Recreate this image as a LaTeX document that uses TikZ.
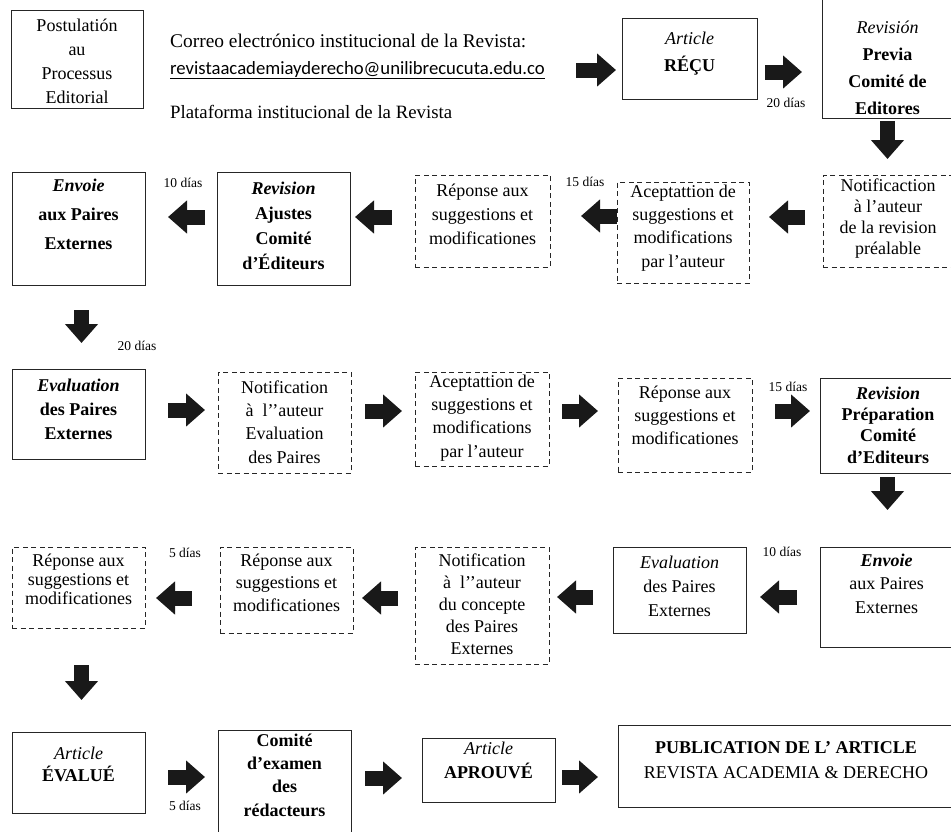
\documentclass[tikz,border=0pt]{standalone}
\usepackage{fontspec}
\setmainfont{Liberation Serif}
\newfontfamily\mailfont{Carlito}
\usetikzlibrary{arrows.meta}

\begin{document}
\begin{tikzpicture}[x=1pt, y=-1pt,
    etape/.style args={#1/#2}{draw=black!85, line width=0.9pt, inner sep=0pt, outer sep=0pt,
      minimum width=#1pt, minimum height=#2pt},
    etapetiret/.style args={#1/#2}{etape=#1/#2, dash pattern=on 5pt off 3.5pt},
    texte/.style={align=center, inner sep=0pt, font=\fontsize{18}{#1}\selectfont},
    ligne/.style={anchor=base west, inner sep=0pt, font=\fontsize{#1}{22}\selectfont},
    jours/.style={inner sep=0pt, font=\fontsize{13.5}{16}\selectfont},
    fleche/.style={draw=black!90, line width=15pt, -{Triangle[width=32pt, length=19pt]}}]
  \useasboundingbox (0,0) rectangle (951,831);

  % ligne 1
  \node[etape=132/98] (post) at (77,59) {};
  \node[texte=24] (tpost) at (77,61) {Postulatión\\au\\Processus\\Editorial};
  \node[ligne=19.4] (m1) at (170,47) {Correo electrónico institucional de la Revista:};
  \node[ligne=18.7, font=\mailfont\fontsize{18.7}{22}\selectfont] (m2) at (170,74)
    {\underline{revistaacademiayderecho@unilibrecucuta.edu.co}};
  \node[ligne=18.8] (m3) at (170,118) {Plataforma institucional de la Revista};
  \node[etape=135/81] (recu) at (689.5,58.5) {};
  \node[texte=27] (trecu) at (689.5,53.5) {\textit{Article}\\\textbf{RÉÇU}};
  \node[etape=131/120] (prev) at (887.5,58) {};
  \node[texte=27] (tprev) at (887.5,68)
    {\textit{Revisión}\\\textbf{Previa}\\\textbf{Comité de}\\\textbf{Editores}};
  \node[jours] (j1) at (786,103) {20 días};

  % ligne 2
  \node[etapetiret=130/92] (notp) at (888,221) {};
  \node[texte=21] (tnotp) at (888,218.5) {Notificaction\\à l’auteur\\de la revision\\préalable};
  \node[etapetiret=132/101] (acep1) at (683,232.5) {};
  \node[texte=23.3] (tacep1) at (683,228) {Aceptattion de\\suggestions et\\modifications\\par l’auteur};
  \node[etapetiret=135/92] (rep1) at (482.5,221) {};
  \node[texte=24] (trep1) at (482.5,214) {Réponse aux\\suggestions et\\modificationes};
  \node[etape=133/113] (aju) at (283.5,228.5) {};
  \node[texte=25] (taju) at (283.5,225.5)
    {\textbf{\textit{Revision}}\\\textbf{Ajustes}\\\textbf{Comité}\\\textbf{d’Éditeurs}};
  \node[etape=133/113] (env1) at (78.5,228.5) {};
  \node[texte=29] (tenv1) at (78.5,214) {\textbf{\textit{Envoie}}\\\textbf{aux Paires}\\\textbf{Externes}};
  \node[jours] (j2) at (585,182) {15 días};
  \node[jours] (j3) at (183,183) {10 días};
  \node[jours] (j4) at (137,346) {20 días};

  % ligne 3
  \node[etape=133/90] (eval1) at (78.5,414) {};
  \node[texte=24] (teval1) at (78.5,409)
    {\textbf{\textit{Evaluation}}\\\textbf{des Paires}\\\textbf{Externes}};
  \node[etapetiret=133/101] (not2) at (284.5,422.5) {};
  \node[texte=23.3] (tnot2) at (284.5,422) {Notification\\à\ \ l’’auteur\\Evaluation\\des Paires};
  \node[etapetiret=134/94] (acep2) at (482,419) {};
  \node[texte=23.3] (tacep2) at (482,418) {Aceptattion de\\suggestions et\\modifications\\par l’auteur};
  \node[etapetiret=134/94] (rep2) at (685,425) {};
  \node[texte=23] (trep2) at (685,415) {Réponse aux\\suggestions et\\modificationes};
  \node[etape=133/95] (prep) at (886.5,425.5) {};
  \node[texte=21.3] (tprep) at (888,425)
    {\textbf{\textit{Revision}}\\\textbf{Préparation}\\\textbf{Comité}\\\textbf{d’Editeurs}};
  \node[jours] (j5) at (788,387) {15 días};

  % ligne 4
  \node[etape=133/100] (env2) at (886.5,597) {};
  \node[texte=23.5] (tenv2) at (886.5,583.5) {\textbf{\textit{Envoie}}\\aux Paires\\Externes};
  \node[etape=133/86] (eval2) at (679.5,590) {};
  \node[texte=24] (teval2) at (679.5,586) {\textit{Evaluation}\\des Paires\\Externes};
  \node[etapetiret=134/117] (not3) at (482,605.5) {};
  \node[texte=22] (tnot3) at (482,604) {Notification\\à\ \ l’’auteur\\du concepte\\des Paires\\Externes};
  \node[etapetiret=133/86] (rep3) at (286.5,590) {};
  \node[texte=22.5] (trep3) at (286.5,582.5) {Réponse aux\\suggestions et\\modificationes};
  \node[etapetiret=133/81] (rep4) at (78.5,587.5) {};
  \node[texte=19] (trep4) at (78.5,579) {Réponse aux\\suggestions et\\modificationes};
  \node[jours] (j6) at (782,552) {10 días};
  \node[jours] (j7) at (185,553) {5 días};

  % ligne 5
  \node[etape=133/81] (evalue) at (78.5,772.5) {};
  \node[texte=22] (tevalue) at (78.5,764) {\textit{Article}\\\textbf{ÉVALUÉ}};
  \node[etape=133/106] (comite) at (284.5,783) {};
  \node[texte=23.3] (tcomite) at (284.5,775)
    {\textbf{Comité}\\\textbf{d’examen}\\\textbf{des}\\\textbf{rédacteurs}};
  \node[etape=133/64] (aprou) at (488.5,770) {};
  \node[texte=24] (taprou) at (488.5,760) {\textit{Article}\\\textbf{APROUVÉ}};
  \node[etape=335/82] (pub) at (785.5,766) {};
  \node[texte=25] (tpub) at (786,760.5)
    {\textbf{PUBLICATION DE L’ ARTICLE}\\REVISTA ACADEMIA \& DERECHO};
  \node[jours] (j8) at (185,806) {5 días};

  % fleches
  \begin{scope}[fleche]
    \draw[shorten <=31pt, shorten >=6pt] (m2.east |- 0,70) -- (recu.west |- 0,70);
    \draw[shorten <=8pt, shorten >=20pt] (recu.east |- 0,72) -- (prev.west |- 0,72);
    \draw[shorten <=3pt, shorten >=16pt] (prev.south) -- (prev.south |- notp.north);
    \draw[shorten <=18pt, shorten >=20pt] (notp.west |- 0,217) -- (acep1.east |- 0,217);
    \draw[shorten <=0pt, shorten >=31pt] (acep1.west |- 0,216) -- (rep1.east |- 0,216);
    \draw[shorten <=23pt, shorten >=5pt] (rep1.west |- 0,217) -- (aju.east |- 0,217);
    \draw[shorten <=12pt, shorten >=23pt] (aju.west |- 0,217) -- (env1.east |- 0,217);
    \draw[shorten <=25pt, shorten >=26pt] ([xshift=3pt]env1.south) -- ([xshift=3pt]env1.south |- eval1.north);
    \draw[shorten <=23pt, shorten >=13pt] (eval1.east |- 0,410) -- (not2.west |- 0,410);
    \draw[shorten <=14pt, shorten >=13pt] (not2.east |- 0,411) -- (acep2.west |- 0,411);
    \draw[shorten <=13pt, shorten >=20pt] (acep2.east |- 0,411) -- (rep2.west |- 0,411);
    \draw[shorten <=23pt, shorten >=10pt] (rep2.east |- 0,411) -- (prep.west |- 0,411);
    \draw[shorten <=4pt, shorten >=37pt] ([xshift=1pt]prep.south) -- ([xshift=1pt]prep.south |- env2.north);
    \draw[shorten <=23pt, shorten >=14pt] (env2.west |- 0,597) -- (eval2.east |- 0,597);
    \draw[shorten <=20pt, shorten >=8pt] (eval2.west |- 0,597) -- (not3.east |- 0,597);
    \draw[shorten <=17pt, shorten >=9pt] (not3.west |- 0,598) -- (rep3.east |- 0,598);
    \draw[shorten <=28pt, shorten >=11pt] (rep3.west |- 0,598) -- (rep4.east |- 0,598);
    \draw[shorten <=37pt, shorten >=32pt] ([xshift=3pt]rep4.south) -- ([xshift=3pt]rep4.south |- evalue.north);
    \draw[shorten <=23pt, shorten >=13pt] (evalue.east |- 0,777) -- (comite.west |- 0,777);
    \draw[shorten <=14pt, shorten >=20pt] (comite.east |- 0,778) -- (aprou.west |- 0,778);
    \draw[shorten <=7pt, shorten >=20pt] (aprou.east |- 0,777) -- (pub.west |- 0,777);
  \end{scope}
\end{tikzpicture}
\end{document}
